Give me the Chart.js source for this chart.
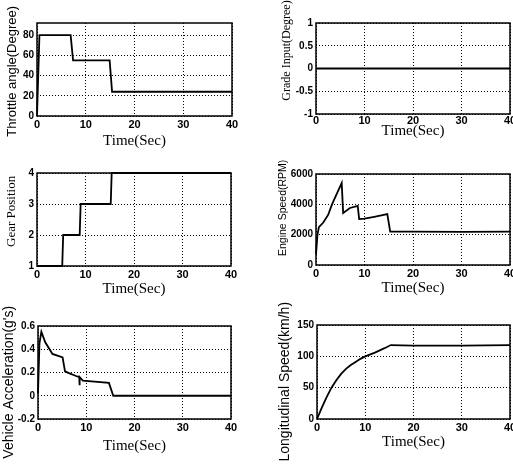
<!DOCTYPE html>
<html lang="en">
<head>
  <meta charset="UTF-8" />
  <title>Vehicle simulation responses</title>
  <script src="https://cdn.jsdelivr.net/npm/chart.js"></script>
  <style>
    html, body { margin: 0; padding: 0; background: #fff; }
    body { width: 513px; height: 465px; position: relative; overflow: hidden; }
    .cell { position: absolute; }
  </style>
</head>
<body>

<div class="cell" id="c1"><canvas id="throttleChart"></canvas></div>
<div class="cell" id="c2"><canvas id="gradeChart"></canvas></div>
<div class="cell" id="c3"><canvas id="gearChart"></canvas></div>
<div class="cell" id="c4"><canvas id="engineChart"></canvas></div>
<div class="cell" id="c5"><canvas id="accelChart"></canvas></div>
<div class="cell" id="c6"><canvas id="speedChart"></canvas></div>

<script>
  // shared time axis
  const timeTicks = [0, 10, 20, 30, 40];

  // throttle angle (deg)
  const throttleTime  = [0, 0.5, 6.9, 7.4, 14.9, 15.4, 40];
  const throttleAngle = [0, 80, 80, 55, 55, 24, 24];
  const throttleTicks = [0, 20, 40, 60, 80];

  // grade input (deg)
  const gradeTime  = [0, 40];
  const gradeInput = [0, 0];
  const gradeTicks = [-1, -0.5, 0, 0.5, 1];

  // gear position
  const gearTime  = [0, 5.2, 5.4, 8.8, 9.0, 15.2, 15.4, 40];
  const gearPos   = [1, 1, 2, 2, 3, 3, 4, 4];
  const gearTicks = [1, 2, 3, 4];

  // engine speed (rpm)
  const engineTime  = [0, 0.3, 0.6, 1.5, 2.5, 3.3, 4.3, 5.3, 5.6, 7.0, 8.6, 8.9, 10, 12, 14.7, 15.3, 20, 30, 40];
  const engineSpeed = [700, 2000, 2500, 2800, 3300, 4000, 4700, 5400, 3430, 3760, 3890, 3030, 3060, 3180, 3360, 2200, 2200, 2180, 2200];
  const engineTicks = [0, 2000, 4000, 6000];

  // vehicle acceleration (g)
  const accelTime  = [0, 0.3, 0.7, 1.5, 3.0, 5.1, 5.3, 5.6, 6.4, 7.9, 8.55, 8.6, 8.65, 9.3, 14.7, 15.6, 20, 30, 40];
  const accelValue = [0.02, 0.45, 0.55, 0.46, 0.36, 0.33, 0.28, 0.21, 0.195, 0.17, 0.16, 0.09, 0.16, 0.13, 0.11, 0, 0, 0, 0];
  const accelTicks = [-0.2, 0, 0.2, 0.4, 0.6];

  // longitudinal speed (km/h)
  const speedTime  = [0, 1, 2, 3, 4, 5, 6, 7, 8, 9, 10, 12, 14, 15.3, 20, 30, 40];
  const speedValue = [0, 18, 35, 50, 62, 72, 80, 86, 91, 96, 100, 106, 113, 118, 117, 117, 118];
  const speedTicks = [0, 50, 100, 150];

  const framePlugin = {
    id: 'frame',
    afterDraw(chart) {
      const a = chart.chartArea;
      const ctx = chart.ctx;
      ctx.save();
      ctx.strokeStyle = '#000';
      ctx.lineWidth = 1.5;
      ctx.strokeRect(a.left, a.top, a.right - a.left, a.bottom - a.top);
      ctx.restore();
    }
  };

  const tickFont = { family: 'Liberation Sans', size: 10, weight: 'bold' };
  const xTickFont = { family: 'Liberation Sans', size: 11, weight: 'bold' };
  const xTitleFont = { family: 'Liberation Serif', size: 15 };

  const measureCtx = document.createElement('canvas').getContext('2d');

  // pad the rotated title with spaces so the visible text sits off-centre
  // shift > 0 moves it up, shift < 0 moves it down (centre alignment)
  function shiftedTitle(text, font, shift) {
    if (!shift) return text;
    measureCtx.font = font.size + 'px "' + font.family + '"';
    const sp = measureCtx.measureText('\u00a0').width || font.size * 0.25;
    const n = Math.round(Math.abs(shift) * 2 / sp);
    const pad = '\u00a0'.repeat(n);
    return shift > 0 ? pad + text : text + pad;
  }

  function makeChart(opt) {
    const cell = document.getElementById(opt.cell);
    const [cx, cy, cw, ch] = opt.box;
    const [L, T, R, B] = opt.plot;
    cell.style.left = cx + 'px';
    cell.style.top = cy + 'px';
    cell.style.width = cw + 'px';
    cell.style.height = ch + 'px';
    const yW = L - cx;
    const xH = cy + ch - B;
    const yLh = opt.yFont.size * 1.2;
    const xLh = xTitleFont.size * 1.2;

    const points = opt.x.map((t, i) => ({ x: t, y: opt.y[i] }));

    return new Chart(document.getElementById(opt.canvas), {
      type: 'line',
      data: {
        datasets: [{
          data: points,
          borderColor: '#000',
          borderWidth: 1.8,
          pointRadius: 0,
          tension: 0,
          fill: false,
          clip: 3
        }]
      },
      options: {
        responsive: true,
        maintainAspectRatio: false,
        animation: false,
        plugins: { legend: { display: false }, tooltip: { enabled: false } },
        layout: { padding: { left: 0, right: cx + cw - R, top: T - cy, bottom: 0 } },
        scales: {
          x: {
            type: 'linear',
            min: 0, max: 40,
            afterBuildTicks: s => { s.ticks = timeTicks.map(v => ({ value: v })); },
            afterFit: s => { s.height = xH; s.paddingLeft = 0; s.paddingRight = 0; },
            grid: { color: '#000', lineWidth: 1, drawTicks: false },
            border: { display: false, dash: [1, 2] },
            ticks: { color: '#000', font: xTickFont, padding: opt.xTickPad, maxRotation: 0 },
            title: {
              display: true, text: 'Time(Sec)', color: '#000', font: xTitleFont,
              padding: { top: 0, bottom: cy + ch - opt.xTitleY - xLh / 2 }
            }
          },
          y: {
            type: 'linear',
            min: opt.yMin, max: opt.yMax,
            afterBuildTicks: s => { s.ticks = opt.yTicks.map(v => ({ value: v })); },
            afterFit: s => { s.width = yW; s.paddingTop = 0; s.paddingBottom = 0; },
            grid: { color: '#000', lineWidth: 1, drawTicks: false },
            border: { display: false, dash: [1, 2] },
            ticks: { color: '#000', font: tickFont, padding: 3, callback: v => String(v) },
            title: {
              display: true, color: '#000', font: opt.yFont,
              text: shiftedTitle(opt.yTitle, opt.yFont, opt.yShift),
              padding: { top: opt.yTitleX - cx - yLh / 2, bottom: 0 }
            }
          }
        }
      },
      plugins: [framePlugin]
    });
  }

  makeChart({
    cell: 'c1', canvas: 'throttleChart', box: [0, 0, 256, 150], plot: [37, 23, 232, 116],
    x: throttleTime, y: throttleAngle, yMin: 0, yMax: 92, yTicks: throttleTicks,
    yTitle: 'Throttle angle(Degree)', yFont: { family: 'Liberation Sans', size: 13 },
    yShift: -2, yTitleX: 12, xTitleY: 141, xTickPad: 2
  });
  makeChart({
    cell: 'c2', canvas: 'gradeChart', box: [256, 0, 257, 150], plot: [316, 23, 510, 114],
    x: gradeTime, y: gradeInput, yMin: -1, yMax: 1, yTicks: gradeTicks,
    yTitle: 'Grade Input(Degree)', yFont: { family: 'Liberation Serif', size: 12 },
    yShift: 18, yTitleX: 287, xTitleY: 131, xTickPad: 0
  });
  makeChart({
    cell: 'c3', canvas: 'gearChart', box: [0, 150, 256, 150], plot: [37, 173, 231, 266],
    x: gearTime, y: gearPos, yMin: 1, yMax: 4, yTicks: gearTicks,
    yTitle: 'Gear Position', yFont: { family: 'Liberation Serif', size: 13 },
    yShift: 8, yTitleX: 12, xTitleY: 289, xTickPad: 2
  });
  makeChart({
    cell: 'c4', canvas: 'engineChart', box: [256, 150, 257, 150], plot: [316, 174, 510, 265],
    x: engineTime, y: engineSpeed, yMin: 0, yMax: 6000, yTicks: engineTicks,
    yTitle: 'Engine Speed(RPM)', yFont: { family: 'Liberation Sans', size: 10.5 },
    yShift: 11, yTitleX: 283, xTitleY: 288, xTickPad: 2
  });
  makeChart({
    cell: 'c5', canvas: 'accelChart', box: [0, 300, 256, 165], plot: [38, 326, 231, 419],
    x: accelTime, y: accelValue, yMin: -0.2, yMax: 0.6, yTicks: accelTicks,
    yTitle: "Vehicle Acceleration(g's)", yFont: { family: 'Liberation Sans', size: 14 },
    yShift: -10, yTitleX: 9, xTitleY: 446, xTickPad: 2
  });
  makeChart({
    cell: 'c6', canvas: 'speedChart', box: [256, 300, 257, 165], plot: [317, 325, 510, 419],
    x: speedTime, y: speedValue, yMin: 0, yMax: 150, yTicks: speedTicks,
    yTitle: 'Longitudinal Speed(km/h)', yFont: { family: 'Liberation Sans', size: 14 },
    yShift: -10, yTitleX: 285, xTitleY: 442, xTickPad: 2
  });
</script>
</body>
</html>
